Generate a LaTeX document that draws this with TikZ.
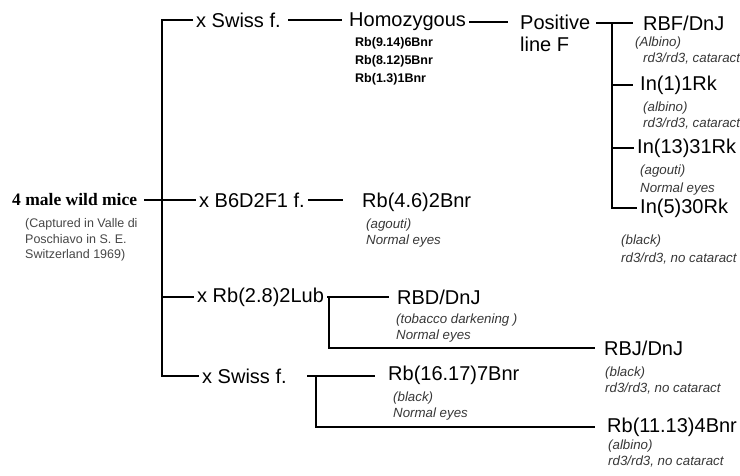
\documentclass[tikz,border=0pt]{standalone}
\usepackage{fontspec}
\setmainfont{Liberation Sans}
\newfontfamily\serifbold{Liberation Serif}

\begin{document}
\begin{tikzpicture}[
  x=1pt, y=-1pt,
  font=\fontsize{20}{22}\selectfont,
  strain/.style={anchor=west, inner xsep=3pt, inner ysep=1pt},
  note/.style={anchor=base west, inner sep=0pt, align=left, text=notegray, font=\fontsize{13.3}{16}\selectfont\itshape},
  link/.style={line width=2.4pt}
]

\definecolor{notegray}{RGB}{55,55,55}
\definecolor{capgray}{RGB}{70,70,70}

\useasboundingbox (0,0) rectangle (740,476);

% founders and the four crosses
\node[strain, font={\fontsize{17.5}{20}\serifbold\bfseries}] (mice) at (9,200) {4 male wild mice};
\node[note, text=capgray, font=\fontsize{12.5}{16}\selectfont] (micenote) at (25,259) {(Captured in Valle di\\Poschiavo in S. E.\\Switzerland 1969)};

\node[strain] (swissA) at (193,20) {x Swiss f.};
\node[strain] (b6) at (196,200) {x B6D2F1 f.};
\node[strain] (lub) at (194,297) {x Rb(2.8)2Lub};
\node[strain] (swissB) at (199,376) {x Swiss f.};

% first cross
\node[strain] (homo) at (346,22) {Homozygous};
\node[note, text=black, font=\bfseries\fontsize{12.5}{18}\selectfont] (homonote) at (355,83) {Rb(9.14)6Bnr\\Rb(8.12)5Bnr\\Rb(1.3)1Bnr};
\node[strain, anchor=base west, align=left] (pos) at (517,52) {Positive\\line F};

\node[strain] (rbf) at (640,23) {RBF/DnJ};
\node[note] (rbfnote) at (635,63) {(Albino)\\\hspace*{8pt}rd3/rd3, cataract};
\node[strain] (in1) at (637,85) {In(1)1Rk};
\node[note] (in1note) at (643,128) {(albino)\\rd3/rd3, cataract};
\node[strain] (in13) at (634,148) {In(13)31Rk};
\node[note] (in13note) at (640,193) {(agouti)\\[2pt]Normal eyes};
\node[strain] (in5) at (637,208) {In(5)30Rk};
\node[note] (in5note) at (621,262) {(black)\\[2pt]rd3/rd3, no cataract};

% second cross
\node[strain] (rb46) at (359,202) {Rb(4.6)2Bnr};
\node[note] (rb46note) at (366,244) {(agouti)\\Normal eyes};

% third cross
\node[strain] (rbd) at (394,297) {RBD/DnJ};
\node[note] (rbdnote) at (396,339) {(tobacco darkening )\\Normal eyes};
\node[strain] (rbj) at (601,348) {RBJ/DnJ};
\node[note] (rbjnote) at (605,392) {(black)\\rd3/rd3, no cataract};

% fourth cross
\node[strain] (rb1617) at (385,375) {Rb(16.17)7Bnr};
\node[note] (rb1617note) at (393,417) {(black)\\Normal eyes};
\node[strain] (rb1113) at (604,427) {Rb(11.13)4Bnr};
\node[note] (rb1113note) at (608,465) {(albino)\\rd3/rd3, no cataract};

\coordinate (trunk) at (162,0);
\coordinate (posfork) at (612,0);
\coordinate (lubfork) at (329,297);
\coordinate (swissfork) at (316,376);

\draw[link] (swissA.west) -- (swissA.west -| trunk) -- (swissB.west -| trunk) -- (swissB.west);
\draw[link] (lub.west -| trunk) -- (lub.west);
\draw[link, shorten <=4pt] (mice.east) -- (b6.west);

\draw[link, shorten <=4.5pt, shorten >=4pt] (swissA.east) -- (swissA.east -| homo.west);
\draw[link, shorten >=9pt] (homo.east) -- (homo.east -| pos.west);
\draw[link, shorten <=3pt, shorten >=7pt] (rbf.west -| pos.east) -- (rbf.west);
\draw[link] (rbf.west -| posfork) -- (in5.west -| posfork) -- (in5.west);
\draw[link, shorten >=4pt] (in1.west -| posfork) -- (in1.west);
\draw[link] (in13.west -| posfork) -- (in13.west);

\draw[link, shorten >=16pt] (b6.east) -- (b6.east -| rb46.west);

\draw[link, shorten >=5pt] (lub.east) -- (rbd.west);
\draw[link, shorten >=6pt] (lubfork) |- (rbj.west);

\draw[link, shorten <=17.5pt, shorten >=10pt] (swissB.east) -- (swissB.east -| rb1617.west);
\draw[link, shorten >=9pt] (swissfork) |- (rb1113.west);

\end{tikzpicture}
\end{document}
